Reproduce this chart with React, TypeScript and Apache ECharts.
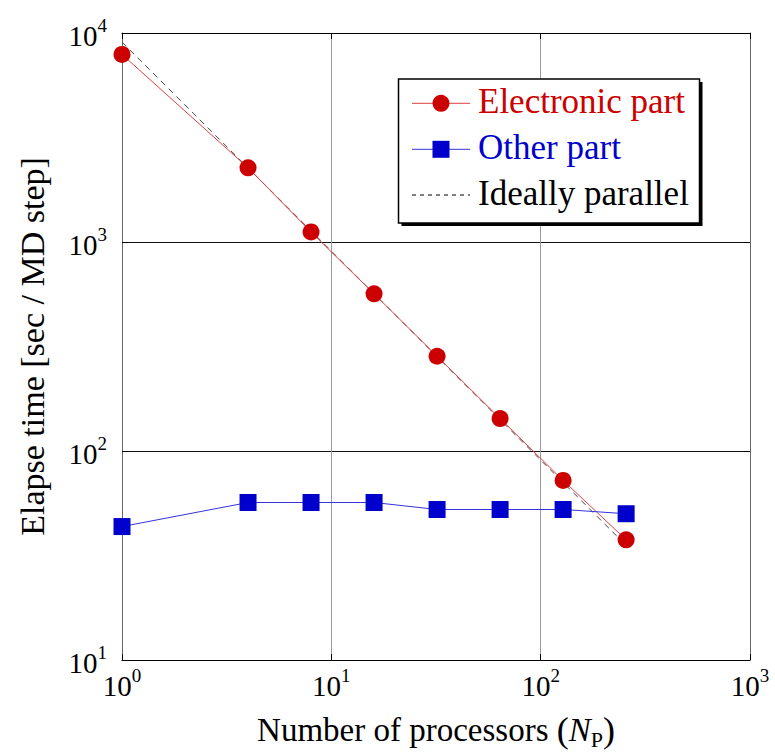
import React, { useEffect, useRef } from "react";
import * as echarts from "echarts";

const processors = [1, 4, 8, 16, 32, 64, 128, 256];
const electronicTime = [7900, 2265, 1117, 565, 284, 143, 72.3, 37.6];
const otherTime = [43.5, 56.7, 56.7, 56.7, 52.5, 52.5, 52.5, 50.1];
const idealProcessors = [1, 256];
const idealTime = [9050, 35.35];
const legendNames = ["Electronic part", "Other part", "Ideally parallel"];
const xAxisTitle = "Number of processors";
const yAxisTitle = "Elapse time [sec / MD step]";

const FONT = "Liberation Serif";
const RED = "#cc0000";
const BLUE = "#0000cc";

const pair = (xs: number[], ys: number[]) => xs.map((x, i) => [x, ys[i]]);

const powLabel = (v: number) => `{b|10}{s|${Math.round(Math.log10(v))}}`;
const powRich = {
  b: { fontSize: 29, fontFamily: FONT, color: "#000", lineHeight: 34, verticalAlign: "bottom" },
  s: { fontSize: 19, fontFamily: FONT, color: "#000", lineHeight: 34, verticalAlign: "top" },
};

export default function App() {
  const ref = useRef<HTMLDivElement>(null);
  useEffect(() => {
    if (!ref.current) return;
    const chart = echarts.init(ref.current, null, { renderer: "svg" });
    const lx = 412, lw = 58, tx = 478;
    const rows = [103.3, 149.3, 195];
    chart.setOption({
      animation: false,
      backgroundColor: "#fff",
      textStyle: { fontFamily: FONT },
      grid: { left: 122, right: 25, top: 33, bottom: 92, containLabel: false, outerBoundsMode: "none" },
      xAxis: [
        {
          type: "log",
          logBase: 10,
          min: 1,
          max: 1000,
          position: "bottom",
          axisLine: { show: true, lineStyle: { color: "#000", width: 1.2 } },
          axisTick: { show: true, inside: true, length: 6, lineStyle: { color: "#000" } },
          minorTick: { show: false },
          splitLine: { show: true, lineStyle: { color: "#999", width: 1 } },
          axisLabel: { formatter: powLabel, rich: powRich, margin: 6, fontFamily: FONT },
          name: `{t|${xAxisTitle} }{p|(}{i|N}{s|P}{p|)}`,
          nameLocation: "middle",
          nameGap: 50,
          nameTextStyle: {
            fontFamily: FONT,
            rich: {
              t: { fontSize: 33, fontFamily: FONT, color: "#000", lineHeight: 40 },
              p: { fontSize: 36, fontFamily: FONT, color: "#000", lineHeight: 40 },
              i: { fontSize: 33, fontFamily: FONT, fontStyle: "italic", color: "#000", lineHeight: 40 },
              s: { fontSize: 22, fontFamily: FONT, color: "#000", lineHeight: 40, verticalAlign: "bottom" },
            },
          },
        },
        {
          type: "log",
          logBase: 10,
          min: 1,
          max: 1000,
          position: "top",
          axisLine: { show: true, lineStyle: { color: "#000", width: 1.2 } },
          axisTick: { show: true, inside: true, length: 6, lineStyle: { color: "#000" } },
          splitLine: { show: false },
          axisLabel: { show: false },
        },
      ],
      yAxis: [
        {
          type: "log",
          logBase: 10,
          min: 10,
          max: 10000,
          position: "left",
          axisLine: { show: true, lineStyle: { color: "#666", width: 1 } },
          axisTick: { show: true, inside: true, length: 6, lineStyle: { color: "#000" } },
          splitLine: { show: true, lineStyle: { color: "#111", width: 1 } },
          axisLabel: { formatter: powLabel, rich: powRich, margin: 15, fontFamily: FONT },
          name: yAxisTitle,
          nameLocation: "middle",
          nameGap: 73,
          nameTextStyle: { fontSize: 34, fontFamily: FONT, color: "#000" },
        },
        {
          type: "log",
          logBase: 10,
          min: 10,
          max: 10000,
          position: "right",
          axisLine: { show: true, lineStyle: { color: "#666", width: 1 } },
          axisTick: { show: true, inside: true, length: 6, lineStyle: { color: "#000" } },
          splitLine: { show: false },
          axisLabel: { show: false },
        },
      ],
      series: [
        {
          name: legendNames[2],
          type: "line",
          data: pair(idealProcessors, idealTime),
          symbol: "none",
          lineStyle: { color: "#444", width: 1, type: [6, 5] },
          z: 1,
        },
        {
          name: legendNames[0],
          type: "line",
          data: pair(processors, electronicTime),
          symbol: "circle",
          symbolSize: 17,
          itemStyle: { color: RED },
          lineStyle: { color: "#e04040", width: 1 },
          z: 2,
        },
        {
          name: legendNames[1],
          type: "line",
          data: pair(processors, otherTime),
          symbol: "rect",
          symbolSize: 17,
          itemStyle: { color: BLUE },
          lineStyle: { color: "#3434d8", width: 1 },
          z: 3,
        },
      ],
      graphic: [
        { type: "rect", z: 10, shape: { x: 401.5, y: 82, width: 301, height: 144 }, style: { fill: "#000" } },
        { type: "rect", z: 11, shape: { x: 398.5, y: 79, width: 301, height: 144 }, style: { fill: "#fff", stroke: "#000", lineWidth: 1.5 } },
        { type: "line", z: 12, shape: { x1: lx, y1: rows[0], x2: lx + lw, y2: rows[0] }, style: { stroke: "#e04040", lineWidth: 1 } },
        { type: "circle", z: 13, shape: { cx: lx + lw / 2, cy: rows[0], r: 8.5 }, style: { fill: RED } },
        { type: "text", z: 13, x: tx, y: rows[0] - 1.5, style: { text: legendNames[0], fill: RED, fontSize: 35, fontFamily: FONT, verticalAlign: "middle" } },
        { type: "line", z: 12, shape: { x1: lx, y1: rows[1], x2: lx + lw, y2: rows[1] }, style: { stroke: "#3434d8", lineWidth: 1 } },
        { type: "rect", z: 13, shape: { x: lx + lw / 2 - 8.5, y: rows[1] - 8.5, width: 17, height: 17 }, style: { fill: BLUE } },
        { type: "text", z: 13, x: tx, y: rows[1] - 1.5, style: { text: legendNames[1], fill: BLUE, fontSize: 35, fontFamily: FONT, verticalAlign: "middle" } },
        { type: "line", z: 12, shape: { x1: lx, y1: rows[2], x2: lx + lw, y2: rows[2] }, style: { stroke: "#000", lineWidth: 1, lineDash: [4, 4] } },
        { type: "text", z: 13, x: tx, y: rows[2] - 1.5, style: { text: legendNames[2], fill: "#000", fontSize: 35, fontFamily: FONT, verticalAlign: "middle" } },
      ],
    });
    return () => chart.dispose();
  }, []);
  return <div ref={ref} style={{ position: "fixed", left: 0, top: 0, width: 775, height: 752 }} />;
}
